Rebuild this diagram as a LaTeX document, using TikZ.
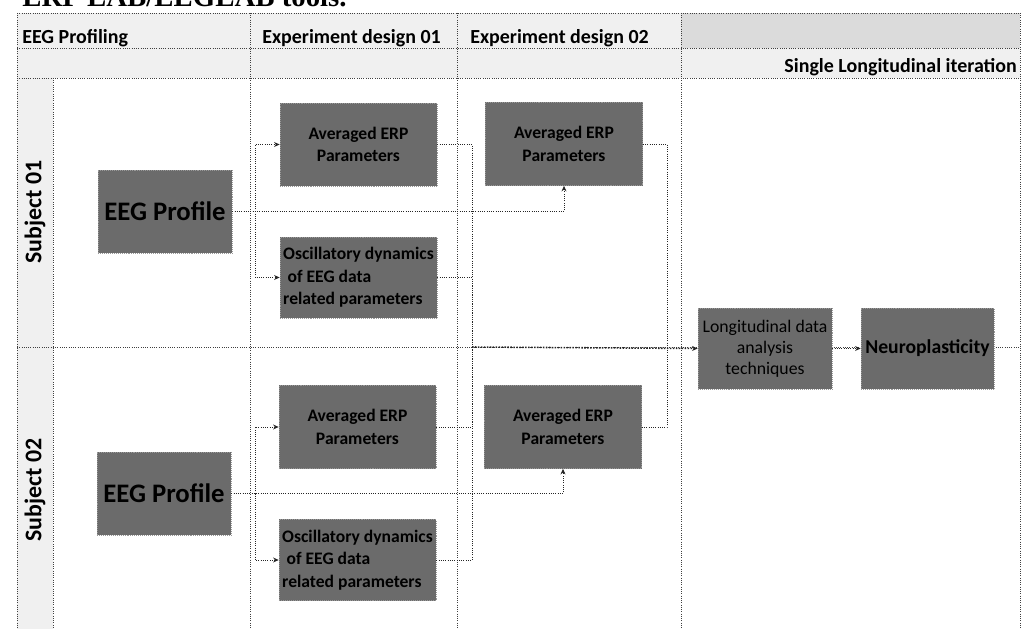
\documentclass[tikz,border=0pt]{standalone}
\usepackage{fontspec}
\setmainfont{Carlito}
\newfontfamily\serifhead{Liberation Serif}
\usetikzlibrary{arrows.meta}

\tikzset{
  grid line/.style={densely dotted, line width=0.6pt, black!75},
  darkbox/.style={fill=black!58, draw=black!40, densely dotted, text=black,
    font=\bfseries\fontsize{12.5}{16}\selectfont, align=center, inner sep=1pt,
    minimum width=3.925cm, minimum height=2.075cm},
  link/.style={densely dotted, line width=0.6pt, black!85},
  linkarrow/.style={link, -{Stealth[length=4pt,width=3.5pt]}},
  headtext/.style={font=\bfseries\fontsize{14.2}{14}\selectfont, inner sep=0pt},
  subjtext/.style={font=\bfseries\fontsize{17}{17}\selectfont, rotate=90, inner sep=0pt},
}

\begin{document}
\begin{tikzpicture}[x=0.025cm, y=-0.025cm]
    \useasboundingbox (0,0) rectangle (1026,629);
    \begin{scope}
    \clip (0,0) rectangle (1026,629);

    % heading cut off by the page
    \node[anchor=base west, inner sep=0pt, font=\serifhead\bfseries\fontsize{20.5}{21}\selectfont] (heading) at (22,7) {ERP LAB/EEGLAB tools.};

    % shaded header rows and subject column
    \fill[black!6] (17,13) rectangle (1020,78);
    \fill[black!14] (681,13) rectangle (1020,48);
    \fill[black!6] (17,78) rectangle (53,629);

    % table lines
    \foreach \y in {13,48,78,347}
        \draw[grid line] (17,\y) -- (1020,\y);
    \foreach \x in {17,250,457,681,1020}
        \draw[grid line] (\x,13) -- (\x,629);
    \draw[grid line] (53,78) -- (53,629);

    % header texts
    \node[headtext, anchor=base west] (colprof) at (22,44) {EEG Profiling};
    \node[headtext, anchor=base west] (colexpA) at (262,44) {Experiment design 01};
    \node[headtext, anchor=base west] (colexpB) at (470,44) {Experiment design 02};
    \node[headtext, anchor=base east] (iter) at (1017,73) {Single Longitudinal iteration};

    % subject labels
    \node[subjtext] (subjA) at (35,212) {Subject 01};
    \node[subjtext] (subjB) at (35,490) {Subject 02};

    % subject 01 boxes
    \node[darkbox, minimum width=3.35cm, font=\bfseries\fontsize{19}{20}\selectfont] (profA) at (165,211.5) {EEG Profile};
    \node[darkbox] (erpA1) at (358.5,144.5) {Averaged ERP\\Parameters};
    \node[darkbox, align=left, minimum height=2.025cm] (oscA) at (358.5,277.5) {Oscillatory dynamics\\\hspace{0.25em}of EEG data\\related parameters};
    \node[darkbox] (erpA2) at (564,144) {Averaged ERP\\Parameters};

    % subject 02 boxes
    \node[darkbox, minimum width=3.35cm, font=\bfseries\fontsize{19}{20}\selectfont] (profB) at (164,493.5) {EEG Profile};
    \node[darkbox] (erpB1) at (357.5,427) {Averaged ERP\\Parameters};
    \node[darkbox, align=left, minimum height=2.025cm] (oscB) at (357.5,560) {Oscillatory dynamics\\\hspace{0.25em}of EEG data\\related parameters};
    \node[darkbox] (erpB2) at (563,427) {Averaged ERP\\Parameters};

    % longitudinal part
    \node[darkbox, minimum width=3.35cm, minimum height=2.025cm, font=\fontsize{12.6}{15}\selectfont] (longi) at (765,348.5) {Longitudinal data\\analysis\\techniques};
    \node[darkbox, minimum width=3.325cm, minimum height=2.025cm, font=\bfseries\fontsize{14}{15}\selectfont] (neuro) at (927.5,348.5) {Neuroplasticity};

    % branch and bus points
    \coordinate (forkA) at (255,211.5);
    \coordinate (forkB) at (255,493.5);
    \coordinate (busA) at (472,347);
    \coordinate (busB) at (667,347);

    % subject 01 links
    \draw[link] (profA.east) -- (forkA);
    \draw[linkarrow] (forkA) |- (erpA1.west);
    \draw[linkarrow] (forkA) |- (oscA.west);
    \draw[linkarrow] (profA.east) -| (erpA2.south);
    \draw[link] (erpA1.east) -| (busA);
    \draw[link] (oscA.east) -| (busA);
    \draw[link] (erpA2.east) -| (busB);

    % subject 02 links
    \draw[link] (profB.east) -- (forkB);
    \draw[linkarrow] (forkB) |- (erpB1.west);
    \draw[linkarrow] (forkB) |- (oscB.west);
    \draw[linkarrow] (profB.east) -| (erpB2.south);
    \draw[link] (erpB1.east) -| (busA);
    \draw[link] (oscB.east) -| (busA);
    \draw[link] (erpB2.east) -| (busB);

    % into the longitudinal analysis
    \draw[linkarrow, line width=1.1pt] (busA) -- (longi.west);
    \draw[linkarrow] (longi.east) -- (neuro.west);
    \end{scope}
\end{tikzpicture}
\end{document}
